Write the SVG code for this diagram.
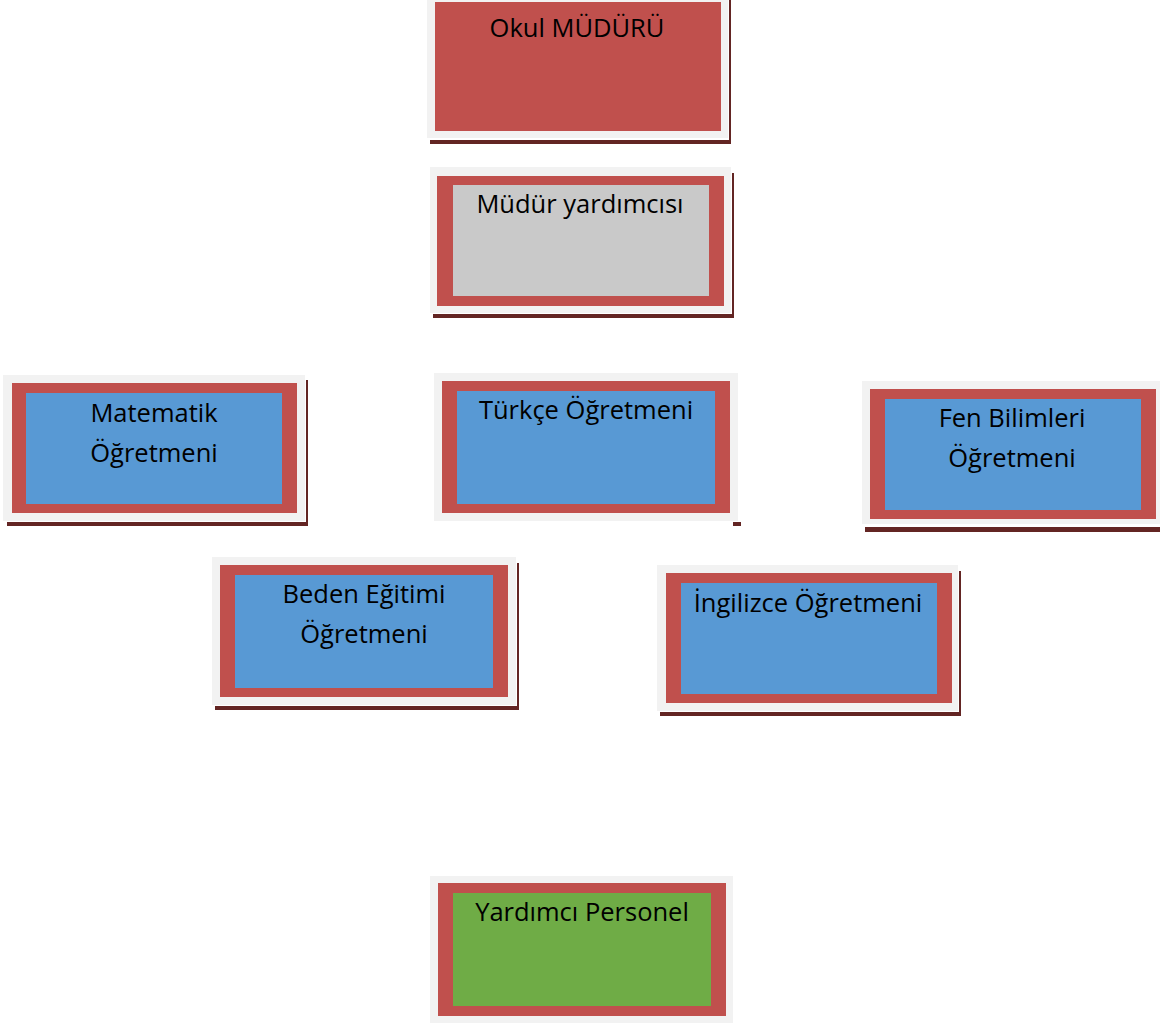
<svg xmlns="http://www.w3.org/2000/svg" width="1160" height="1023" viewBox="0 0 1160 1023">
<style>
.bg{fill:#f2f2f2}
.sh{fill:#632523}
.gap{fill:#ffffff}
.red{fill:#c0504d}
.blue{fill:#5899d4}
.gray{fill:#c9c9c9}
.green{fill:#6fac46}
text{font-family:"Open Sans","Noto Sans","DejaVu Sans",sans-serif;font-size:25.5px;fill:#000;text-anchor:middle}
</style>
<rect width="1160" height="1023" fill="#ffffff"/>
<g id="connectors"></g>
<g id="okul-muduru">
<rect class="sh" x="430" y="-5" width="301" height="149"/>
<rect class="gap" x="428" y="-5" width="301" height="145"/>
<rect class="bg" x="427" y="-5" width="301" height="143"/>
<rect class="red" x="435" y="2" width="286" height="129"/>
<text x="577" y="37">Okul MÜDÜRÜ</text>
</g>
<g id="mudur-yardimcisi">
<rect class="sh" x="433" y="173" width="301" height="145"/>
<rect class="gap" x="431" y="168" width="301" height="146"/>
<rect class="bg" x="430" y="167" width="301" height="146"/>
<rect class="red" x="437" y="176" width="287" height="130"/>
<rect class="gray" x="453" y="185" width="256" height="111"/>
<text x="580" y="213">Müdür yardımcısı</text>
</g>
<g id="matematik">
<rect class="sh" x="7" y="380" width="301" height="146"/>
<rect class="gap" x="4" y="376" width="302" height="146"/>
<rect class="bg" x="3" y="375" width="302" height="146"/>
<rect class="red" x="12" y="383" width="285" height="130"/>
<rect class="blue" x="26" y="393" width="256" height="111"/>
<text x="154" y="422">Matematik</text>
<text x="154" y="462">Öğretmeni</text>
</g>
<g id="turkce">
<rect class="sh" x="733" y="522" width="8" height="4"/>
<rect class="bg" x="434" y="373" width="304" height="148"/>
<rect class="red" x="442" y="381" width="288" height="132"/>
<rect class="blue" x="457" y="391" width="258" height="113"/>
<text x="586" y="419">Türkçe Öğretmeni</text>
</g>
<g id="fen-bilimleri">
<rect class="sh" x="865" y="386" width="300" height="146"/>
<rect class="gap" x="863" y="382" width="300" height="145"/>
<rect class="bg" x="862" y="381" width="300" height="143"/>
<rect class="red" x="870" y="389" width="286" height="130"/>
<rect class="blue" x="885" y="399" width="256" height="111"/>
<text x="1012" y="427">Fen Bilimleri</text>
<text x="1012" y="467">Öğretmeni</text>
</g>
<g id="beden-egitimi">
<rect class="sh" x="215" y="563" width="304" height="147"/>
<rect class="gap" x="213" y="558" width="304" height="148"/>
<rect class="bg" x="212" y="557" width="304" height="148"/>
<rect class="red" x="220" y="565" width="288" height="132"/>
<rect class="blue" x="235" y="575" width="258" height="113"/>
<text x="364" y="603">Beden Eğitimi</text>
<text x="364" y="643">Öğretmeni</text>
</g>
<g id="ingilizce">
<rect class="sh" x="660" y="571" width="301" height="145"/>
<rect class="gap" x="658" y="566" width="301" height="146"/>
<rect class="bg" x="657" y="565" width="301" height="146"/>
<rect class="red" x="666" y="573" width="286" height="130"/>
<rect class="blue" x="681" y="583" width="256" height="111"/>
<text x="808" y="612">İngilizce Öğretmeni</text>
</g>
<g id="yardimci-personel">
<rect class="bg" x="430" y="876" width="303" height="150"/>
<rect class="red" x="438" y="883" width="288" height="133"/>
<rect class="green" x="453" y="893" width="258" height="113"/>
<text x="582" y="921">Yardımcı Personel</text>
</g>
</svg>
